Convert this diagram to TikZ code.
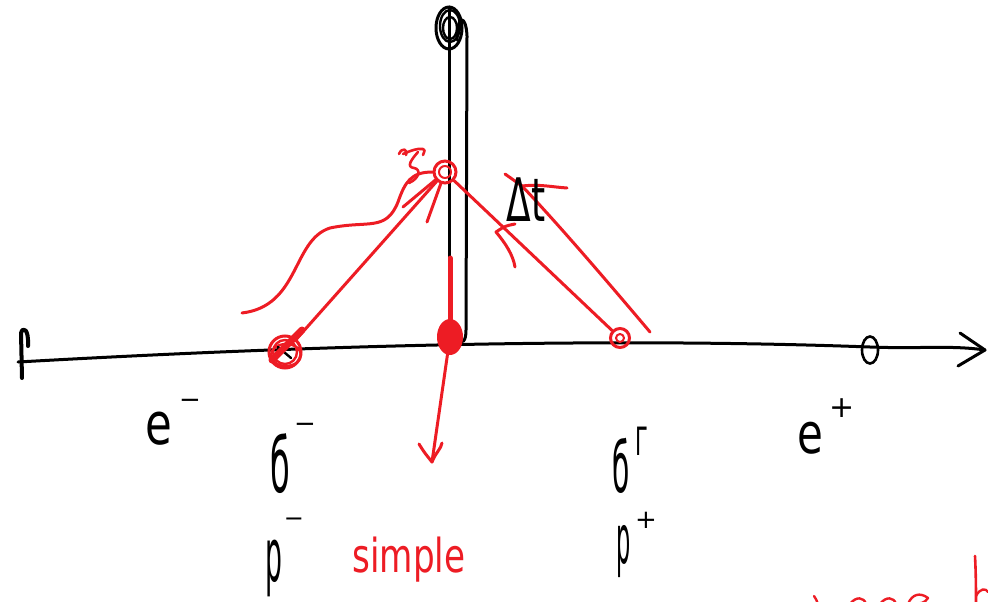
\documentclass[tikz,border=0pt]{standalone}
\usepackage{fontspec}
\usepackage{graphicx}
\usetikzlibrary{shapes.geometric}
\setmainfont{DejaVu Sans}
\definecolor{penred}{RGB}{237,28,36}
\begin{document}
\begin{tikzpicture}[x=1pt,y=-1pt,
  blk/.style={draw=black,line width=3pt,line cap=round,line join=round},
  redl/.style={draw=penred,line width=3pt,line cap=round,line join=round},
  lbl/.style={inner sep=0pt,text=black},
  rlbl/.style={inner sep=0pt,text=penred}]
\useasboundingbox (0,0) rectangle (988,602);
\begin{scope}
\clip (0,0) rectangle (988,602);
% ---------- axis ----------
\coordinate (axL) at (18,362);
\coordinate (axR) at (985,350);
\coordinate (tipA) at (960,333);
\coordinate (tipB) at (958,366);
\draw[blk] (axL) .. controls (300,346) and (600,337) .. (870,347)
  .. controls (920,349) and (950,345) .. (axR);
\draw[blk] (tipA) -- (axR) -- (tipB);
\coordinate (tickB) at (22,378);
\coordinate (tickT) at (21,333);
\draw[blk,line width=4pt] (tickB) -- (tickT) .. controls (23,326) and (29,329) .. (28,346);
% ---------- vertical double post ----------
\coordinate (knob) at (449,28);
\coordinate (postB) at (449,345);
\coordinate (post2T) at (457,40);
\coordinate (post2B) at (458,340);
\draw[blk] (knob) ellipse (13 and 21);
\draw[blk,line width=2.4pt] ([shift={(1,-2)}]knob) ellipse (10 and 16);
\draw[blk,line width=2.4pt] ([xshift=1pt]knob) ellipse (7 and 11);
\draw[blk,line width=2.4pt] ([yshift=-10pt]knob) -- ([yshift=14pt]knob);
\draw[blk] ([yshift=21pt]knob) -- (postB);
\draw[blk] (post2T) .. controls (457,14) and (466,14) .. (467,36) -- (466,330)
  .. controls (466,342) and (462,344) .. (post2B);
% ---------- red vertex at top ----------
\node[circle,draw=penred,line width=3pt,minimum size=22pt,inner sep=0pt] (top) at (445,172) {};
\draw[redl,line width=2pt] (top.center) circle (6);
% ---------- left electron vertex ----------
\node[circle,draw=penred,line width=3pt,minimum size=32pt,inner sep=0pt] (lc) at (285,352) {};
\draw[redl,line width=2.4pt] (lc.center) circle (12);
\draw[redl,line width=2.4pt] ([shift={(1,3)}]lc.center) ellipse (15 and 11);
\draw[blk,line width=2.4pt] ([shift={(-7,-5)}]lc.center) -- ([shift={(6,6)}]lc.center);
\draw[redl] (lc) -- (top);
\coordinate (th1) at (302,330);
\coordinate (th2) at (272,360);
\draw[draw=penred,line width=7pt,line cap=round] (th1) -- (th2);
\coordinate (ah1) at (403,207);
\coordinate (ah2) at (427,222);
\draw[redl] (ah1) -- (top);
\draw[redl] (ah2) -- (top);
% ---------- photon wave ----------
\coordinate (w0) at (242,313);
\draw[redl] (w0) .. controls (300,306) and (292,240) .. (330,228)
  .. controls (368,220) and (386,232) .. (398,202)
  .. controls (405,182) and (411,172) .. (top.west);
% ---------- scribble glyph near top vertex ----------
\coordinate (g0) at (399,154);
\draw[redl,line width=2.6pt] (g0) .. controls (402,147) and (408,149) .. (406,155);
\draw[redl,line width=2.6pt] (403,154) .. controls (410,151) and (417,148) .. (423,149) .. controls (425,150) .. (423,155);
\draw[redl,line width=2.6pt] (418,152) .. controls (411,160) and (406,167) .. (414,168)
  .. controls (421,169) and (420,178) .. (409,183);
% ---------- central red blob and down arrow ----------
\coordinate (stemT) at (450,258);
\fill[penred] (450,337) ellipse (13 and 18);
\node[inner sep=0pt] (blob) at (450,337) {};
\draw[draw=penred,line width=5pt,line cap=round] (stemT) -- (blob);
\coordinate (dtip) at (432,462);
\draw[redl] (blob) -- (dtip);
\draw[redl] (419,444) .. controls (424,452) .. (dtip) .. controls (436,452) and (441,449) .. (442,443);
% ---------- right positron vertex ----------
\node[circle,draw=penred,line width=3pt,minimum size=19pt,inner sep=0pt] (rc) at (620,338) {};
\draw[redl,line width=2pt] (rc.center) circle (4);
\draw[redl] (rc) -- (top);
\coordinate (rt) at (496,232);
\draw[redl] (515,224) .. controls (505,226) .. (rt) .. controls (506,244) and (513,255) .. (515,267);
\coordinate (q0) at (650,332);
\coordinate (q1) at (522,186);
\draw[redl] (q0) .. controls (612,287) and (560,226) .. (q1) -- (505,174);
\draw[redl] (q1) .. controls (540,184) and (552,187) .. (567,188);
% Delta t
\node[lbl,font=\fontsize{48}{48}\selectfont] (dt) at (526,200) {\scalebox{0.75}[1.25]{Δt}};
% ---------- small black ring on axis ----------
\node[ellipse,draw=black,line width=2.6pt,minimum width=16pt,minimum height=27pt,inner sep=0pt] (o) at (870,350) {};
% ---------- labels ----------
\node[lbl,font=\fontsize{58}{58}\selectfont] (em) at (159,429) {\scalebox{0.75}[1]{e}};
\node[lbl,font=\fontsize{26}{26}\selectfont] (emS) at (190,404) {−};
\node[lbl,font=\fontsize{76}{76}\selectfont] (sm) at (280,464) {\scalebox{0.42}[1]{б}};
\node[lbl,font=\fontsize{26}{26}\selectfont] (smS) at (305,428) {−};
\node[lbl,font=\fontsize{74}{74}\selectfont] (pm) at (274,568) {\scalebox{0.36}[1]{p}};
\node[lbl,font=\fontsize{24}{24}\selectfont] (pmS) at (294,522) {−};
\node[lbl,font=\fontsize{70}{70}\selectfont] (sp) at (621,466) {\scalebox{0.4}[1]{б}};
\node[lbl,font=\fontsize{30}{30}\selectfont] (spS) at (641,441) {\scalebox{0.7}[1.3]{Γ}};
\node[lbl,font=\fontsize{68}{68}\selectfont] (pp) at (624,552) {\scalebox{0.33}[1]{p}};
\node[lbl,font=\fontsize{26}{26}\selectfont] (ppS) at (646,520) {+};
\node[lbl,font=\fontsize{56}{56}\selectfont] (ep) at (810,438) {\scalebox{0.75}[1]{e}};
\node[lbl,font=\fontsize{30}{30}\selectfont] (epS) at (842,408) {+};
\node[rlbl,font=\fontsize{36}{36}\selectfont] (simple) at (409,560) {\scalebox{0.95}[1.3]{simple}};
% ---------- cut-off red writing bottom right ----------
\draw[redl,line width=2.4pt] (814,596) .. controls (816,599) .. (818,604);
\draw[redl,line width=2.4pt] (850,604) .. controls (856,596) and (864,597) .. (866,604);
\draw[redl,line width=2.4pt] (880,604) .. controls (886,596) and (894,597) .. (896,604);
\draw[redl,line width=2.4pt] (908,604) .. controls (912,594) and (920,592) .. (928,598) .. controls (924,603) .. (912,604);
\draw[redl,line width=2.6pt] (975,556) .. controls (976,575) and (976,592) .. (976,604);
\draw[redl,line width=2.4pt] (976,596) .. controls (980,588) and (986,588) .. (988,592);
\end{scope}
\end{tikzpicture}
\end{document}
